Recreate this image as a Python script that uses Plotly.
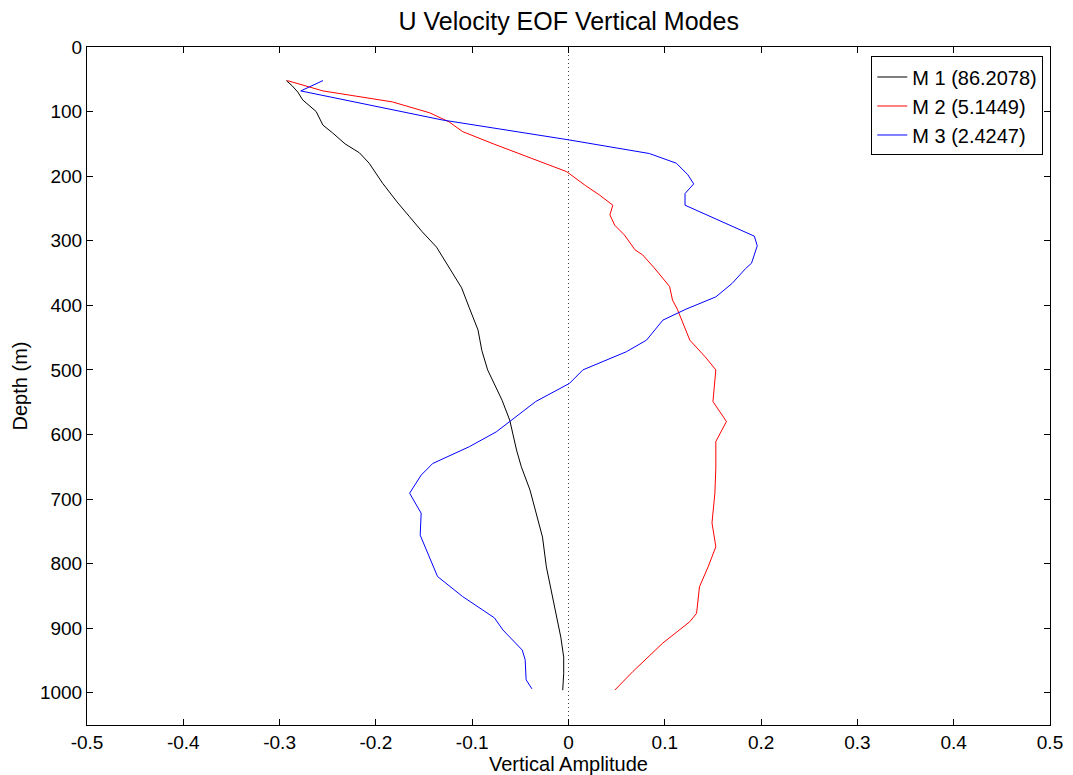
import plotly.graph_objects as go

# Depth (m) and vertical amplitude for the first three EOF modes
depth_m1 = [52, 60, 70, 82, 100, 121, 133, 150, 164, 180, 211, 240, 263, 286, 310, 325,
            350, 373, 404, 438, 470, 500, 547, 578, 624, 650, 686, 720, 759, 805, 861,
            914, 945, 970, 996]
amp_m1 = [-0.293, -0.287, -0.281, -0.276, -0.262, -0.255, -0.245, -0.232, -0.217, -0.207,
          -0.193, -0.178, -0.165, -0.152, -0.137, -0.131, -0.121, -0.111, -0.103, -0.094,
          -0.090, -0.084, -0.069, -0.061, -0.054, -0.049, -0.040, -0.034, -0.027, -0.023,
          -0.015, -0.008, -0.005, -0.005, -0.006]

depth_m2 = [52, 68, 85, 102, 116, 131, 150, 167, 193, 215, 229, 245, 260, 276, 291, 314,
            322, 342, 371, 392, 406, 454, 480, 500, 549, 580, 611, 652, 691, 737, 774,
            805, 836, 877, 890, 923, 967, 996]
amp_m2 = [-0.292, -0.255, -0.183, -0.144, -0.124, -0.110, -0.078, -0.048, -0.002, 0.018,
          0.032, 0.046, 0.043, 0.048, 0.058, 0.069, 0.077, 0.089, 0.105, 0.108, 0.113,
          0.126, 0.142, 0.153, 0.150, 0.164, 0.153, 0.153, 0.152, 0.149, 0.153, 0.145,
          0.136, 0.133, 0.126, 0.098, 0.067, 0.048]

depth_m3 = [52, 68, 113, 144, 165, 180, 198, 212, 227, 245, 293, 308, 335, 343, 366, 387,
            406, 423, 454, 472, 500, 521, 549, 596, 619, 645, 663, 691, 722, 756, 820,
            851, 884, 903, 934, 949, 980, 994]
amp_m3 = [-0.255, -0.278, -0.131, 0.001, 0.084, 0.112, 0.124, 0.130, 0.121, 0.121, 0.193,
          0.196, 0.190, 0.184, 0.170, 0.153, 0.122, 0.098, 0.081, 0.060, 0.015, 0.001,
          -0.034, -0.075, -0.103, -0.141, -0.153, -0.165, -0.153, -0.154, -0.136, -0.110,
          -0.077, -0.068, -0.048, -0.045, -0.044, -0.038]

mode_names = ["M 1 (86.2078)", "M 2 (5.1449)", "M 3 (2.4247)"]
mode_colors = ["#000000", "#ff0000", "#0000ff"]

x_ticks = [-0.5, -0.4, -0.3, -0.2, -0.1, 0, 0.1, 0.2, 0.3, 0.4, 0.5]
x_labels = ["-0.5", "-0.4", "-0.3", "-0.2", "-0.1", "0", "0.1", "0.2", "0.3", "0.4", "0.5"]
y_ticks = [0, 100, 200, 300, 400, 500, 600, 700, 800, 900, 1000]

fig = go.Figure()

# zero reference line
fig.add_trace(go.Scatter(x=[0, 0], y=[0, 1050], mode="lines",
                         line=dict(color="#444444", width=1, dash="1px,3px"),
                         showlegend=False, hoverinfo="skip"))

for d, a, n, c in zip([depth_m1, depth_m2, depth_m3], [amp_m1, amp_m2, amp_m3],
                      mode_names, mode_colors):
    fig.add_trace(go.Scatter(x=a, y=d, mode="lines", name=n,
                             line=dict(color=c, width=1)))

axis_common = dict(showline=True, linecolor="#000000", linewidth=1, mirror="ticks",
                   ticks="inside", ticklen=6, tickcolor="#000000", showgrid=False,
                   zeroline=False, automargin=False,
                   tickfont=dict(size=19, color="#000000"))

fig.update_layout(
    width=1073, height=775,
    margin=dict(l=87, r=23, t=47, b=50),
    paper_bgcolor="#ffffff", plot_bgcolor="#ffffff",
    font=dict(family="Liberation Sans, Arial, sans-serif", color="#000000"),
    title=dict(text="U Velocity EOF Vertical Modes", x=0.530, xanchor="center",
               y=0.973, yanchor="middle", font=dict(size=25), automargin=False),
    xaxis=dict(range=[-0.5, 0.5], tickvals=x_ticks, ticktext=x_labels,
               title=dict(text="Vertical Amplitude", font=dict(size=20), standoff=0),
               **axis_common),
    yaxis=dict(range=[1050, 0], tickvals=y_ticks,
               title=dict(text="Depth (m)", font=dict(size=20), standoff=6),
               **axis_common),
    legend=dict(x=0.993, y=0.986, xanchor="right", yanchor="top",
                bgcolor="#ffffff", bordercolor="#000000", borderwidth=1,
                font=dict(size=20), tracegroupgap=0),
    showlegend=True,
)

fig.write_html("out.html")
